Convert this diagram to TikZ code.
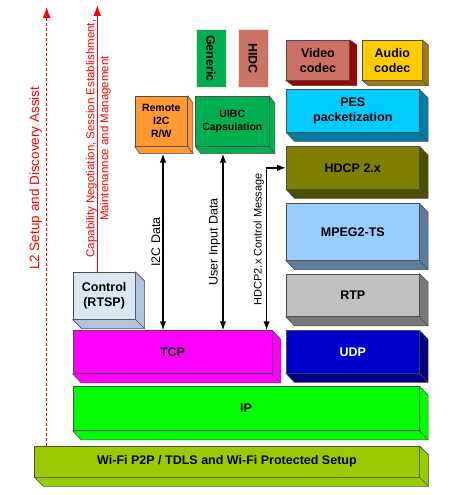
\documentclass[tikz,border=0pt]{standalone}
\usepackage{fontspec}
\setmainfont{Liberation Sans}
\usetikzlibrary{calc,arrows.meta}
\definecolor{videoc}{RGB}{204,112,102}
\definecolor{videos}{RGB}{153,0,0}
\definecolor{audioc}{RGB}{255,204,0}
\definecolor{audios}{RGB}{160,125,0}
\definecolor{pesc}{RGB}{0,204,255}
\definecolor{pess}{RGB}{0,125,160}
\definecolor{hdcpc}{RGB}{128,128,0}
\definecolor{hdcps}{RGB}{77,77,0}
\definecolor{mpegc}{RGB}{153,204,255}
\definecolor{mpegs}{RGB}{95,125,155}
\definecolor{rtpc}{RGB}{192,192,192}
\definecolor{rtps}{RGB}{120,120,120}
\definecolor{udpc}{RGB}{0,0,204}
\definecolor{udps}{RGB}{0,0,128}
\definecolor{tcpc}{RGB}{255,0,255}
\definecolor{ipc}{RGB}{0,255,0}
\definecolor{wific}{RGB}{153,204,0}
\definecolor{ctrlc}{RGB}{220,230,242}
\definecolor{ctrls}{RGB}{176,196,222}
\definecolor{remc}{RGB}{255,153,51}
\definecolor{uibcc}{RGB}{0,176,80}
\definecolor{hidcc}{RGB}{204,115,102}
\begin{document}
\begin{tikzpicture}[x=1pt,y=-1pt,
  lay/.style={draw=black!70, line width=0.6pt, anchor=north west, inner sep=0pt,
    align=center, font=\bfseries\fontsize{12.5}{15}\selectfont},
  small/.style={font=\bfseries\fontsize{10.5}{13}\selectfont},
  flat/.style={draw=black!10, inner sep=0pt, rotate=-90,
    minimum width=58pt, minimum height=30pt, font=\bfseries\fontsize{12.5}{15}\selectfont},
  flow/.style={line width=1.4pt, {Latex[length=9pt,width=6.5pt]}-{Latex[length=9pt,width=6.5pt]}},
  lbl/.style={rotate=90, anchor=south, inner sep=2pt, font=\fontsize{12.5}{15}\selectfont},
  redline/.style={red, line width=1.3pt, -{Latex[length=11pt,width=8pt]}}]
\useasboundingbox (0,0) rectangle (474,495);

% right stack
\node[lay, fill=videoc, minimum width=63.3pt, minimum height=40pt] (video) at (286,40) {Video\\codec};
\node[lay, fill=audioc, minimum width=59.4pt, minimum height=40pt] (audio) at (362.3,40) {Audio\\codec};
\node[lay, fill=pesc, minimum width=133pt, minimum height=42.4pt] (pes) at (286,89.3) {PES\\packetization};
\node[lay, fill=hdcpc, minimum width=133pt, minimum height=42.4pt] (hdcp) at (286,146.3) {HDCP 2.x};
\node[lay, fill=mpegc, minimum width=133pt, minimum height=56.7pt] (mpeg) at (286,203.3) {MPEG2-TS};
\node[lay, fill=rtpc, minimum width=133pt, minimum height=42.8pt] (rtp) at (286,273.5) {RTP};
\node[lay, fill=udpc, text=white, minimum width=133pt, minimum height=42.5pt] (udp) at (286,330.3) {UDP};

% left side
\node[flat, fill=uibcc] (generic) at (210.9,58.5) {Generic};
\node[flat, fill=hidcc] (hidc) at (252.9,58.5) {HIDC};
\node[lay, small, fill=remc, minimum width=52.6pt, minimum height=50pt] (remote) at (134.7,96) {Remote\\I2C\\R/W};
\node[lay, small, fill=uibcc, minimum width=73.4pt, minimum height=50pt] (uibc) at (195.3,96) {UIBC\\Capsulation};
\node[lay, fill=ctrlc, minimum width=62.3pt, minimum height=47pt] (ctrl) at (72.7,272) {Control\\(RTSP)};
\node[lay, fill=tcpc, minimum width=199pt, minimum height=43pt] (tcp) at (72.7,330.3) {TCP};
\node[lay, fill=ipc, minimum width=346.3pt, minimum height=44pt] (ip) at (72.7,386.3) {IP};
\node[lay, fill=wific, minimum width=384.7pt, minimum height=30.7pt] (wifi) at (34.3,446) {Wi-Fi P2P / TDLS and Wi-Fi Protected Setup};

% depth of the blocks
\foreach \n/\c/\dx/\dy in {video/videos/7/5, audio/audios/6/5, pes/pess/8.5/9,
  hdcp/hdcps/8.5/9, mpeg/mpegs/8.5/9, rtp/rtps/8.5/9, udp/udps/8.5/9,
  remote/remc/5/7, uibc/uibcc/5.5/7, ctrl/ctrls/9/9, tcp/tcpc/8.5/9,
  ip/ipc/8.5/9, wifi/wific/9/9}
{
  \filldraw[fill=\c, draw=black!70, line width=0.6pt] (\n.north east) -- ++(\dx,\dy)
    -- ($(\n.south east)+(\dx,\dy)$) -- ($(\n.south west)+(\dx,\dy)$)
    -- (\n.south west) -- (\n.south east) -- cycle;
  \draw[black!70, line width=0.6pt] (\n.south east) -- ++(\dx,\dy);
}

% data paths
\coordinate (i2c) at ($(remote.south)+(1.7,7)$);
\coordinate (uid) at ($(uibc.south)+(-9.3,7)$);
\draw[flow] (i2c) -- node[lbl] {I2C Data} (i2c |- tcp.north);
\draw[flow] (uid) -- node[lbl] {User Input Data} (uid |- tcp.north);
\draw[flow] (hdcp.west) -| node[lbl, pos=0.72, font=\fontsize{11}{13}\selectfont] {HDCP2.x Control Message} ([xshift=-5.7pt]tcp.north east);

% red arrows
\coordinate (l2tip) at (46.7,7);
\coordinate (captip) at (97.3,5);
\draw[redline, dash pattern=on 3pt off 2pt] (l2tip |- wifi.north) -- node[lbl, pos=0.61, inner sep=4pt, font=\fontsize{13.5}{16}\selectfont] {L2 Setup and Discovery Assist} (l2tip);
\draw[redline] (captip |- ctrl.north) -- node[rotate=90, align=center, yshift=-1pt, font=\fontsize{11.5}{14}\selectfont] {Capability Negotiation, Session Establishment,\\Maintenannce and Management} (captip);
\end{tikzpicture}
\end{document}
